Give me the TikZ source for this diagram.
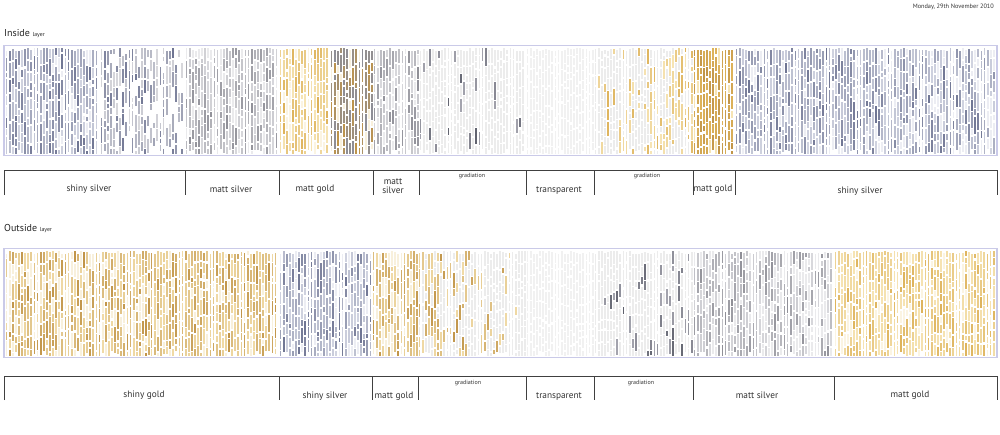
\documentclass[tikz,border=0pt]{standalone}
\usepackage{fontspec}
\setmainfont{PT Sans}
\begin{document}
\begin{tikzpicture}[x=1pt,y=-1pt,
  lab/.style={font=\fontsize{9.3}{10}\selectfont, anchor=base, inner sep=0pt, text=black!80},
  gradlab/.style={font=\fontsize{6}{6.5}\selectfont, anchor=base, inner sep=0pt, text=black!80},
  title/.style={font=\fontsize{10}{11}\selectfont, anchor=base west, inner sep=0pt, text=black!85},
  bracket/.style={draw=black!75, line width=0.9pt},
  stripframe/.style={draw=lav, line width=1.3pt}]
\definecolor{lav}{HTML}{CACAE8}
\definecolor{slateA}{HTML}{6E7492}
\definecolor{slateB}{HTML}{D0D3E0}
\definecolor{slateL}{HTML}{ECEDF3}
\definecolor{greyA}{HTML}{8E8E96}
\definecolor{greyB}{HTML}{D8D8DC}
\definecolor{greyL}{HTML}{EAEAEC}
\definecolor{goldA}{HTML}{C09448}
\definecolor{goldB}{HTML}{F0DAA6}
\definecolor{goldL}{HTML}{F8F0DC}
\definecolor{paleGoldA}{HTML}{DDB25A}
\definecolor{paleGoldB}{HTML}{F6E4B4}
\definecolor{paleGoldL}{HTML}{FBF4E2}
\definecolor{darkA}{HTML}{5E606C}
\definecolor{darkB}{HTML}{A4A4AE}
\definecolor{paleL}{HTML}{ECECEC}
\definecolor{transL}{HTML}{F1F1F1}
\useasboundingbox (0,0) rectangle (1000,434);
\fill[white] (0,0) rectangle (1000,434);
\pgfmathsetseed{4711}
\newcommand\seg[9]{%
  \pgfmathsetmacro\ncol{int(floor(((#2)-(#1)-2)/3.1))}%
  \foreach \i in {0,...,\ncol}{%
    \pgfmathsetmacro\xx{#1+0.6+\i*3.1}%
    \pgfmathsetmacro\pp{#7+(#8-#7)*\i/max(\ncol,1)}%
    \pgfmathsetmacro\yy{#3+1.5+4*rnd}%
    \loop
      \pgfmathsetmacro\yend{min(\yy+4+14*rnd,#4-1.5)}%
      \pgfmathsetmacro\rr{rnd}%
      \ifdim\rr pt<\pp pt
        \pgfmathsetmacro\mix{int(100*rnd^1.6)}%
        \fill[#5!\mix!#6] (\xx,\yy) rectangle ({\xx+1.8},\yend);%
      \else
        \fill[#9] (\xx,\yy) rectangle ({\xx+1.8},\yend);%
      \fi
      \pgfmathsetmacro\yy{\yend+1+1.5*rnd}%
      \ifdim\yy pt<\dimexpr #4pt-4pt\relax
    \repeat
  }%
}
% ---------- date and titles ----------
\node[anchor=base east, inner sep=0pt, font=\fontsize{6.3}{7}\selectfont, text=black!80] (date) at (994,8) {Monday, 29th November 2010};
\node[title] (tin) at (4,36.5) {Inside {\fontsize{5.8}{6}\selectfont layer}};
\node[title] (tout) at (4,231.5) {Outside {\fontsize{5.8}{6}\selectfont layer}};
% ---------- inside strip ----------
\seg{5}{100}{46}{155}{slateA}{slateB}{0.92}{0.85}{slateL}
\seg{100}{185}{46}{155}{slateA}{greyB}{0.8}{0.7}{white}
\seg{185}{279}{46}{155}{greyA}{greyB}{0.75}{0.9}{greyL}
\seg{279}{330}{46}{155}{paleGoldA}{paleGoldB}{0.85}{0.85}{paleGoldL}
\seg{330}{373}{46}{155}{goldA}{greyA}{0.85}{0.85}{goldL}
\seg{373}{419}{46}{155}{greyA}{greyB}{0.85}{0.7}{greyL}
\seg{419}{526}{46}{155}{darkA}{darkB}{0.2}{0.04}{paleL}
\seg{526}{594}{46}{155}{darkA}{darkB}{0}{0}{transL}
\seg{594}{693}{46}{155}{paleGoldA}{paleGoldB}{0.02}{0.6}{paleL}
\seg{693}{735}{46}{155}{goldA}{paleGoldA}{0.9}{0.9}{paleGoldB}
\seg{735}{997}{46}{155}{slateA}{slateB}{0.95}{0.7}{slateL}
\draw[stripframe] (4,45.5) rectangle (997,155.5);
% ---------- outside strip ----------
\seg{5}{150}{249}{357}{goldA}{goldB}{0.75}{0.8}{goldL}
\seg{150}{279}{249}{357}{goldA}{goldB}{0.9}{0.9}{goldL}
\seg{279}{372}{249}{357}{slateA}{slateB}{0.9}{0.85}{slateL}
\seg{372}{418}{249}{357}{goldA}{goldB}{0.85}{0.8}{goldL}
\seg{418}{526}{249}{357}{goldA}{goldB}{0.55}{0.04}{paleL}
\seg{526}{594}{249}{357}{darkA}{darkB}{0}{0}{transL}
\seg{594}{693}{249}{357}{darkA}{darkB}{0.03}{0.3}{paleL}
\seg{693}{834}{249}{357}{greyA}{greyB}{0.85}{0.5}{greyL}
\seg{834}{997}{249}{357}{paleGoldA}{paleGoldB}{0.9}{0.9}{paleGoldL}
\draw[stripframe] (4,248.5) rectangle (997,357.5);
% ---------- inside brackets ----------
\coordinate (i0) at (4,170);
\coordinate (i9) at (997,170);
\draw[bracket] (4,195) -- (i0) -- (i9) -- (997,195);
\foreach \d/\n in {185/a,279/b,373/c,419/d,526/e,594/f,693/g,735/h}{
  \coordinate (it\n) at (\d,170);
  \coordinate (ib\n) at (\d,195);
  \draw[bracket] (it\n) -- (ib\n);
}
\node[lab] (l1) at (89,191.5) {shiny silver};
\node[lab] (l2) at (231,192) {matt silver};
\node[lab] (l3) at (315,191.5) {matt gold};
\node[lab] (l4) at (393,184) {matt};
\node[lab] (l4b) at (393,193) {silver};
\node[gradlab] (l5) at (472,177) {gradiation};
\node[lab] (l6) at (559,192.5) {transparent};
\node[gradlab] (l7) at (647,177) {gradiation};
\node[lab] (l8) at (713,191.5) {matt gold};
\node[lab] (l9) at (860,193) {shiny silver};
% ---------- outside brackets ----------
\coordinate (o0) at (4,376);
\coordinate (o9) at (997,376);
\draw[bracket] (4,400) -- (o0) -- (o9) -- (997,400);
\foreach \d/\n in {279/a,372/b,418/c,526/d,594/e,693/f,834/g}{
  \coordinate (ot\n) at (\d,376);
  \coordinate (ob\n) at (\d,400);
  \draw[bracket] (ot\n) -- (ob\n);
}
\node[lab] (m1) at (144,397.5) {shiny gold};
\node[lab] (m2) at (325,398.5) {shiny silver};
\node[lab] (m3) at (394,398.5) {matt gold};
\node[gradlab] (m4) at (468,384) {gradiation};
\node[lab] (m5) at (559,398.5) {transparent};
\node[gradlab] (m6) at (641,384) {gradiation};
\node[lab] (m7) at (757,398.5) {matt silver};
\node[lab] (m8) at (910,397.5) {matt gold};
\end{tikzpicture}
\end{document}
